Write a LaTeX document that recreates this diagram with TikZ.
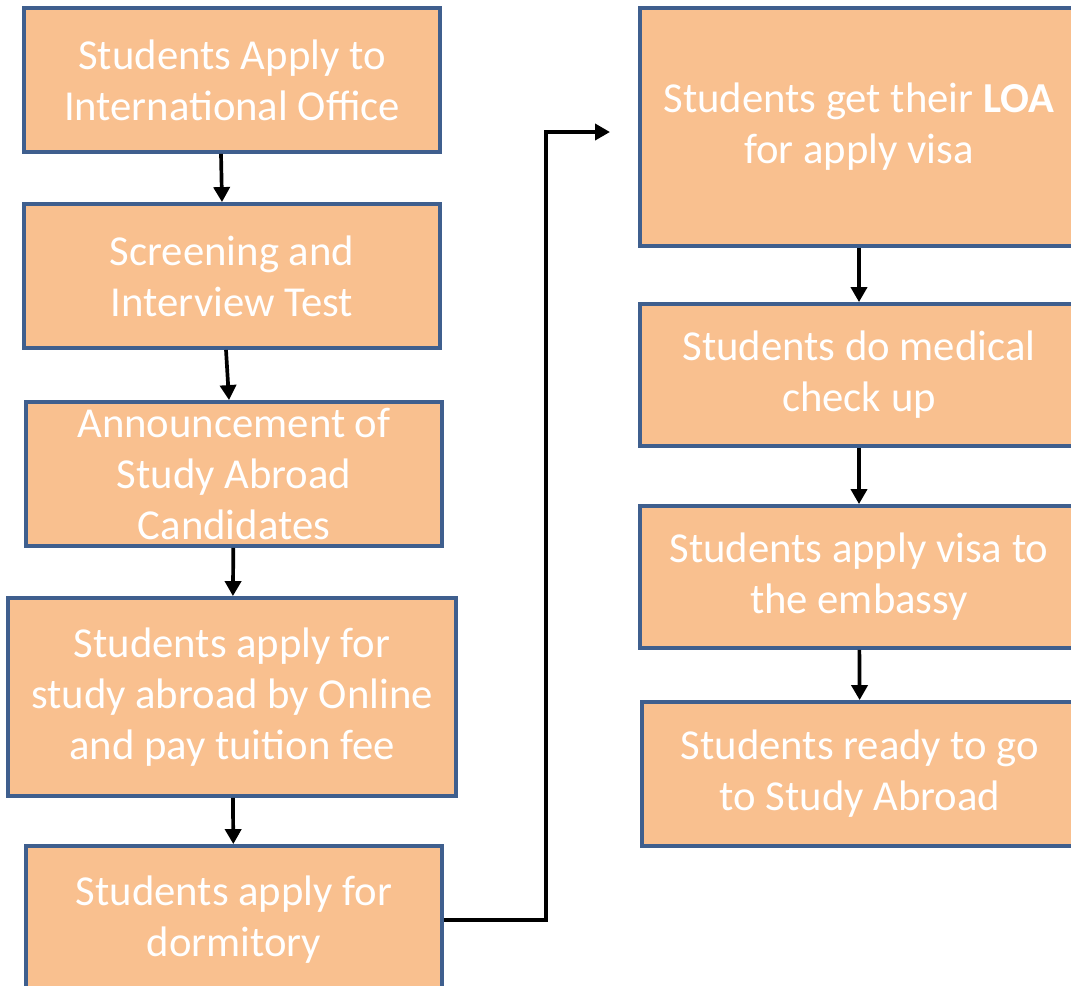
\documentclass[tikz,border=0pt]{standalone}
\usepackage{fontspec}
\setmainfont{Carlito}
\usepackage{tikz}
\usetikzlibrary{calc}
\usetikzlibrary{arrows.meta}
\usetikzlibrary{positioning}
\usepackage{color}
\definecolor{peach}{RGB}{249, 192, 143}
\definecolor{slateblue}{RGB}{63, 95, 142}
\tikzset{
    stepbox/.style={draw=slateblue, fill=peach, line width=2.2pt, text=white, align=center,
                    font=\fontsize{24.3}{29}\selectfont, inner sep=0pt},
    flow/.style={line width=2.1pt, -{Triangle[length=0.3cm, width=0.32cm]}},
}

\begin{document}
\begin{tikzpicture}[x=0.02cm, y=-0.02cm]
            \useasboundingbox (0,0) rectangle (1071,985);
            \clip             (0,0) rectangle (1071,985);
            % left column
            \node[stepbox, minimum width=8.32cm, minimum height=2.88cm] (apply)    at (232, 80)  {Students Apply to\\International Office};
            \node[stepbox, minimum width=8.32cm, minimum height=2.88cm] (screen)   at (232,276)  {Screening and\\Interview Test};
            \node[stepbox, minimum width=8.32cm, minimum height=2.88cm] (announce) at (234,474)  {Announcement of\\Study Abroad\\Candidates};
            \node[stepbox, minimum width=8.96cm, minimum height=3.96cm] (online)   at (232,697)  {Students apply for\\study abroad by Online\\and pay tuition fee};
            \node[stepbox, minimum width=8.32cm, minimum height=2.96cm] (dorm)     at (234,920)  {Students apply for\\dormitory};
            % right column
            \node[stepbox, minimum width=8.76cm, minimum height=4.76cm] (loa)      at (859,127)  {Students get their \textbf{LOA}\\for apply visa};
            \node[stepbox, minimum width=8.76cm, minimum height=2.84cm] (medical)  at (859,375)  {Students do medical\\check up};
            \node[stepbox, minimum width=8.76cm, minimum height=2.84cm] (visa)     at (859,577)  {Students apply visa to\\the embassy};
            \node[stepbox, minimum width=8.72cm, minimum height=2.88cm] (ready)    at (860,774)  {Students ready to go\\to Study Abroad};
            % connectors
            \draw[flow] ([xshift=-0.22cm]apply.south) -- ([xshift=-0.2cm]screen.north);
            \draw[flow] ([xshift=-0.12cm]screen.south) -- ([xshift=-0.1cm]announce.north);
            \draw[flow] (announce) -- (online);
            \draw[flow] (online)   -- (dorm);
            \draw[flow] (loa)      -- (medical);
            \draw[flow] (medical)  -- (visa);
            \draw[flow] (visa)     -- (ready);
            \coordinate (bend)   at (546,132);
            \coordinate (loaend) at (610,132);
            \draw[flow] (dorm.east) -| (bend) -- (loaend);
\end{tikzpicture}
\end{document}
